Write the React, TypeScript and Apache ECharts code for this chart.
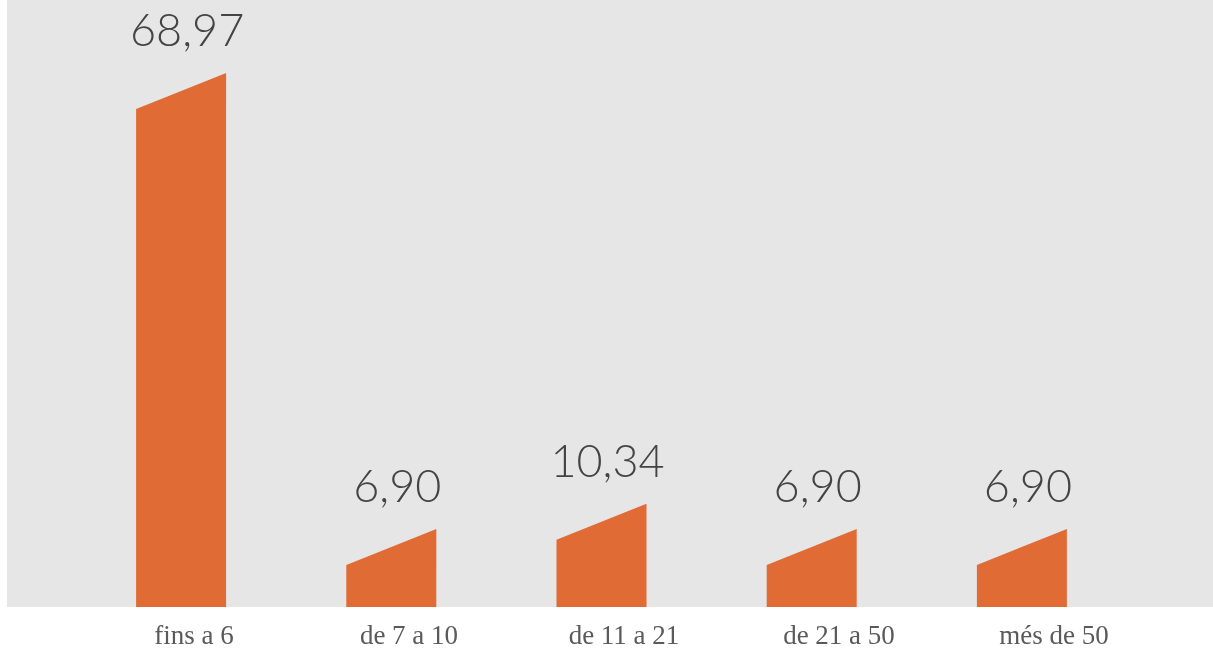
import React, { useEffect, useRef } from "react";
import * as echarts from "echarts";

const categories = ["fins a 6", "de 7 a 10", "de 11 a 21", "de 21 a 50", "més de 50"];
const values = [68.97, 6.9, 10.34, 6.9, 6.9];
const valueLabels = ["68,97", "6,90", "10,34", "6,90", "6,90"];

const Y_MIN = 1.18;
const Y_MAX = 83.8;
const BAR_W = 90;
const SLANT = 36;

export default function App() {
  const ref = useRef<HTMLDivElement>(null);
  useEffect(() => {
    if (!ref.current) return;
    const chart = echarts.init(ref.current, undefined, { renderer: "svg" });
    chart.setOption({
      animation: false,
      graphic: [
        {
          type: "rect",
          z: -10,
          shape: { x: 7, y: 0, width: 1206, height: 607 },
          style: { fill: "#e6e6e6" },
          silent: true,
        },
      ],
      grid: [
        { left: 76, right: 86, top: 0, bottom: 44 },
        { left: 86.5, right: 51.5, top: 0, bottom: 44 },
      ],
      xAxis: [
        {
          type: "category",
          gridIndex: 0,
          data: categories,
          axisLine: { show: false },
          axisTick: { show: false },
          axisLabel: { show: false },
          splitLine: { show: false },
        },
        {
          type: "category",
          gridIndex: 1,
          data: categories,
          axisLine: { show: false },
          axisTick: { show: false },
          axisLabel: {
            show: true,
            margin: 14,
            fontFamily: "Liberation Serif",
            fontSize: 27,
            color: "#5a5a5a",
          },
          splitLine: { show: false },
        },
      ],
      yAxis: [
        { type: "value", gridIndex: 0, min: Y_MIN, max: Y_MAX, show: false },
        { type: "value", gridIndex: 1, min: 0, max: 1, show: false },
      ],
      series: [
        {
          type: "custom",
          xAxisIndex: 0,
          yAxisIndex: 0,
          data: values.map((v, i) => [i, v]),
          renderItem: (params: any, api: any) => {
            const i = api.value(0);
            const v = api.value(1);
            const top = api.coord([i, v]);
            const base = api.coord([i, Y_MIN]);
            const cx = top[0];
            const l = cx - BAR_W / 2;
            const r = cx + BAR_W / 2;
            return {
              type: "group",
              children: [
                {
                  type: "polygon",
                  shape: {
                    points: [
                      [l, base[1]],
                      [l, top[1]],
                      [r, top[1] - SLANT],
                      [r, base[1]],
                    ],
                  },
                  style: { fill: "#e06b35" },
                },
                {
                  type: "text",
                  x: cx + 6,
                  y: top[1] - SLANT - 44,
                  style: {
                    text: valueLabels[params.dataIndex],
                    fontFamily: "Lato",
                    fontWeight: 300,
                    fontSize: 45,
                    fill: "#444444",
                    align: "center",
                    verticalAlign: "middle",
                  },
                },
              ],
            };
          },
        },
      ],
    });
    return () => chart.dispose();
  }, []);
  return (
    <div
      ref={ref}
      style={{ position: "fixed", left: 0, top: 0, width: 1213, height: 651 }}
    />
  );
}
